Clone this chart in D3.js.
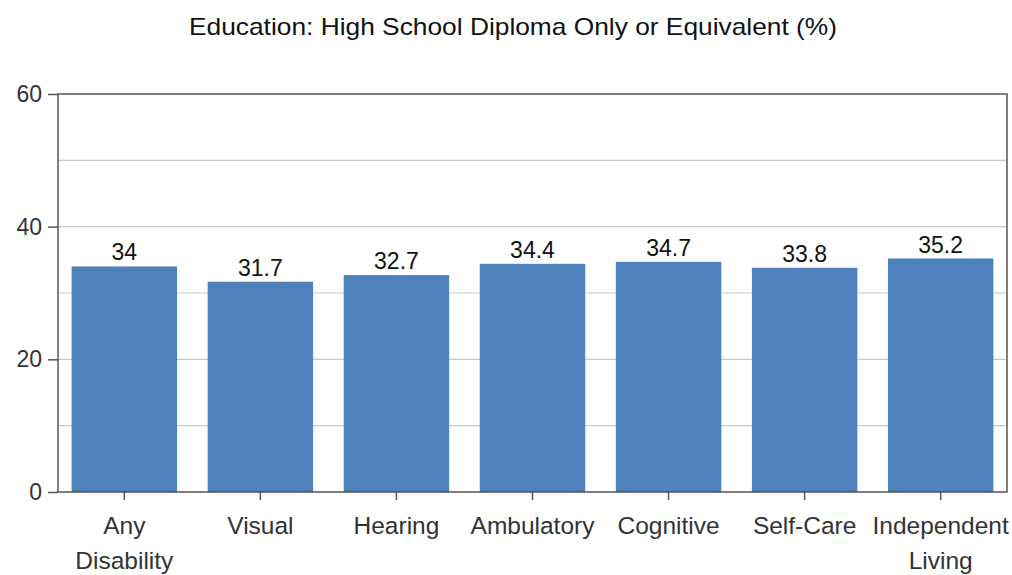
<!DOCTYPE html>
<html><head><meta charset="utf-8">
<script src="https://cdn.jsdelivr.net/npm/d3@7"></script>
<style>body{margin:0;background:#fff;} text{font-family:"Liberation Sans",Arial,sans-serif;}</style>
</head><body>
<svg id="chart" width="1012" height="575"></svg>
<script>
const categories = [["Any","Disability"],["Visual"],["Hearing"],["Ambulatory"],["Cognitive"],["Self-Care"],["Independent","Living"]];
const values = [34, 31.7, 32.7, 34.4, 34.7, 33.8, 35.2];
const valueLabels = ["34","31.7","32.7","34.4","34.7","33.8","35.2"];
const yTicks = [0, 20, 40, 60];
const gridValues = [10, 20, 30, 40, 50];
const title = "Education: High School Diploma Only or Equivalent (%)";

const FONT = "Liberation Sans";
const svg = d3.select("#chart");
const m = {left: 58, right: 1007, top: 94, bottom: 492};
const x = d3.scaleBand().domain(d3.range(values.length)).range([m.left, m.right]).paddingInner(0.225).paddingOuter(0.1);
const y = d3.scaleLinear().domain([0, 60]).range([m.bottom, m.top]);

svg.append("text").attr("x", 513).attr("y", 35).attr("text-anchor", "middle")
  .attr("font-size", 24).attr("fill", "#111")
  .attr("textLength", 648).attr("lengthAdjust", "spacingAndGlyphs").text(title);

svg.append("g").selectAll("line").data(gridValues).join("line")
  .attr("x1", m.left).attr("x2", m.right)
  .attr("y1", d => y(d)).attr("y2", d => y(d))
  .attr("stroke", "#c8c8c8").attr("stroke-width", 1.2);

svg.append("g").selectAll("rect").data(values).join("rect")
  .attr("x", (d, i) => x(i)).attr("width", x.bandwidth())
  .attr("y", d => y(d)).attr("height", d => y(0) - y(d))
  .attr("fill", "#4f81bd");

svg.append("g").selectAll("text").data(values).join("text")
  .attr("x", (d, i) => x(i) + x.bandwidth() / 2).attr("y", d => y(d) - 6)
  .attr("text-anchor", "middle").attr("font-size", 23).attr("fill", "#111")
  .text((d, i) => valueLabels[i]);

// frame
svg.append("rect").attr("x", m.left).attr("y", m.top).attr("width", m.right - m.left).attr("height", m.bottom - m.top)
  .attr("fill", "none").attr("stroke", "#555").attr("stroke-width", 1.5);

const yAxis = d3.axisLeft(y).tickValues(yTicks).tickSize(10).tickPadding(6);
const gy = svg.append("g").attr("transform", `translate(${m.left},0)`).call(yAxis);
gy.select(".domain").remove();
gy.selectAll("line").attr("stroke", "#555").attr("stroke-width", 1.5);
gy.selectAll("text").attr("font-size", 23).attr("fill", "#333").attr("font-family", FONT);

const xAxis = d3.axisBottom(x).tickSize(8).tickFormat(() => "");
const gx = svg.append("g").attr("transform", `translate(0,${m.bottom})`).call(xAxis);
gx.select(".domain").remove();
gx.selectAll("line").attr("stroke", "#555").attr("stroke-width", 1.5);
gx.selectAll(".tick").each(function(d) {
  const t = d3.select(this).select("text").attr("y", 0).attr("dy", null)
    .attr("font-size", 24.5).attr("fill", "#333").attr("font-family", FONT);
  categories[d].forEach((line, k) => {
    t.append("tspan").attr("x", 0).attr("y", 42 + k * 35).text(line);
  });
});
</script>
</body></html>
